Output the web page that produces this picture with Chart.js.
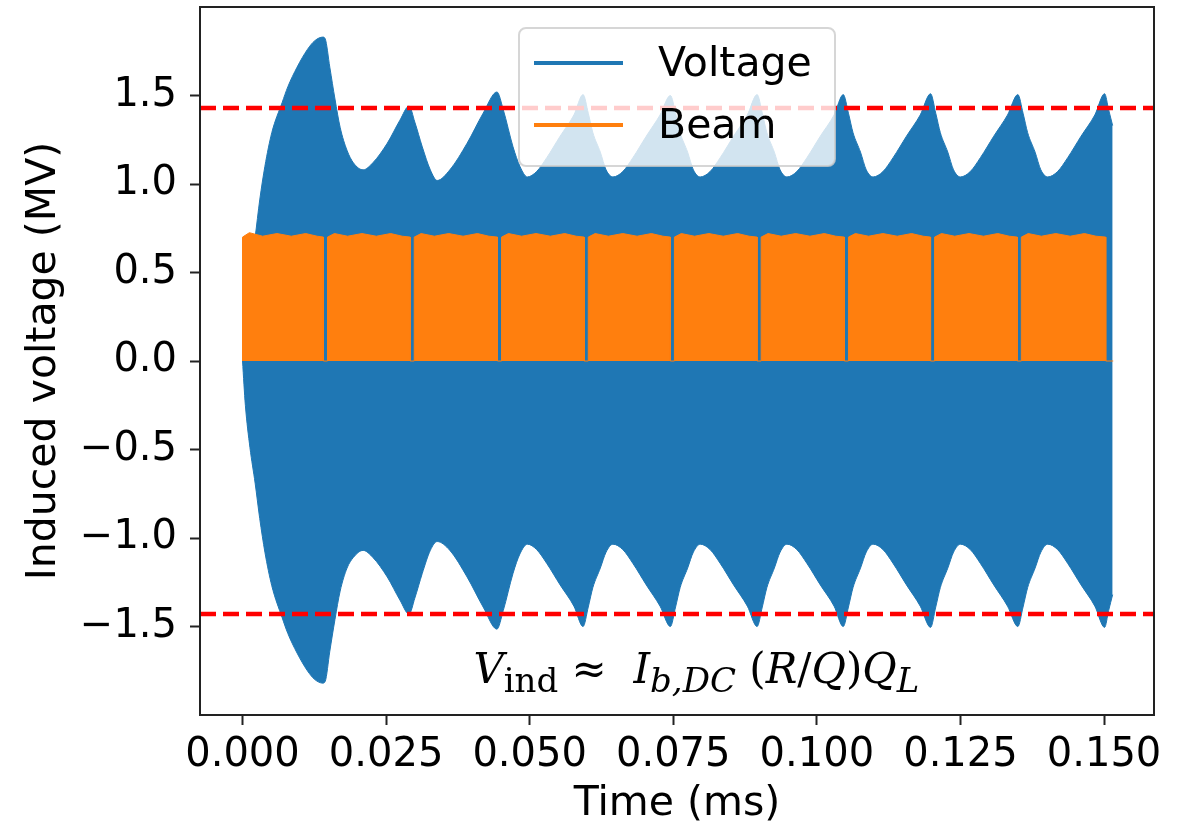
<!DOCTYPE html>
<html>
<head>
<meta charset="utf-8">
<title>Induced voltage</title>
<script src="https://cdn.jsdelivr.net/npm/chart.js@4.4.1/dist/chart.umd.min.js"></script>
<style>
  body { margin: 0; background: #fff; }
  canvas { display: block; }
</style>
</head>
<body>
<canvas id="myChart" width="1191" height="823"></canvas>
<script>
// time axis of the voltage envelope (ms)
const voltTime = [
    0, 0.0005, 0.0013, 0.0022, 0.0030, 0.0039, 0.0051, 0.0069, 0.0079, 0.0095, 0.0113, 0.0126, 0.0140,
    0.0144, 0.0152, 0.0161, 0.0170, 0.0182, 0.0193, 0.0210,
    0.0227, 0.0252, 0.0274, 0.0290,
    0.0300, 0.0313, 0.0327, 0.0339,
    0.0361, 0.0391, 0.0419, 0.0443,
    0.0454, 0.0471, 0.0483, 0.0496,
    0.0512, 0.0530, 0.0553, 0.0577, 0.0593,
    0.0602, 0.0610, 0.0623, 0.0633, 0.0645, 0.0662, 0.0680, 0.0703, 0.0727, 0.0745,
    0.0754, 0.0762, 0.0775, 0.0785, 0.0797, 0.0814, 0.0832, 0.0855, 0.0879, 0.0896,
    0.0905, 0.0913, 0.0926, 0.0936, 0.0948, 0.0965, 0.0983, 0.1006, 0.1030, 0.1046,
    0.1055, 0.1063, 0.1076, 0.1086, 0.1098, 0.1115, 0.1133, 0.1156, 0.1180, 0.1198,
    0.1207, 0.1215, 0.1228, 0.1238, 0.1250, 0.1267, 0.1285, 0.1308, 0.1332, 0.1350,
    0.1359, 0.1367, 0.1380, 0.1390, 0.1402, 0.1419, 0.1437, 0.1460, 0.1484, 0.1501,
    0.1508, 0.1515
];
// upper envelope of the voltage (MV)
const voltHigh = [
    0, 0.26, 0.50, 0.70, 0.91, 1.10, 1.29, 1.46, 1.55, 1.66, 1.76, 1.81, 1.83,
    1.82, 1.66, 1.48, 1.32, 1.19, 1.12, 1.08,
    1.12, 1.23, 1.36, 1.44,
    1.35, 1.21, 1.08, 1.02,
    1.08, 1.23, 1.40, 1.52,
    1.42, 1.21, 1.10, 1.04,
    1.07, 1.15, 1.27, 1.39, 1.505,
    1.40, 1.29, 1.18, 1.08, 1.04, 1.07, 1.15, 1.27, 1.39, 1.50,
    1.40, 1.29, 1.18, 1.08, 1.04, 1.07, 1.15, 1.27, 1.39, 1.505,
    1.40, 1.29, 1.18, 1.08, 1.04, 1.07, 1.15, 1.27, 1.39, 1.505,
    1.40, 1.29, 1.18, 1.08, 1.04, 1.07, 1.15, 1.27, 1.39, 1.51,
    1.40, 1.29, 1.18, 1.08, 1.04, 1.07, 1.15, 1.27, 1.39, 1.505,
    1.40, 1.29, 1.18, 1.08, 1.04, 1.07, 1.15, 1.27, 1.39, 1.51,
    1.42, 1.33
];
// lower envelope of the voltage (MV)
const voltLow = [
    0, -0.25, -0.49, -0.69, -0.89, -1.08, -1.27, -1.45, -1.54, -1.65, -1.75, -1.80, -1.82,
    -1.81, -1.64, -1.46, -1.30, -1.17, -1.11, -1.07,
    -1.11, -1.22, -1.35, -1.43,
    -1.34, -1.20, -1.07, -1.02,
    -1.07, -1.22, -1.39, -1.515,
    -1.41, -1.20, -1.09, -1.035,
    -1.065, -1.145, -1.265, -1.385, -1.50,
    -1.39, -1.28, -1.17, -1.08, -1.035, -1.065, -1.145, -1.265, -1.385, -1.50,
    -1.39, -1.28, -1.17, -1.08, -1.035, -1.065, -1.145, -1.265, -1.385, -1.50,
    -1.39, -1.28, -1.17, -1.08, -1.035, -1.065, -1.145, -1.265, -1.385, -1.50,
    -1.39, -1.28, -1.17, -1.08, -1.035, -1.065, -1.145, -1.265, -1.385, -1.505,
    -1.39, -1.28, -1.17, -1.08, -1.035, -1.065, -1.145, -1.265, -1.385, -1.50,
    -1.39, -1.28, -1.17, -1.08, -1.035, -1.065, -1.145, -1.265, -1.385, -1.505,
    -1.41, -1.32
];

// beam signal: bunch trains with short gaps
const beamTime = [
    0, 0, 0.0012, 0.0035, 0.0060, 0.0085, 0.0110, 0.0130, 0.0141, 0.0141,
    0.0148, 0.0148, 0.0160, 0.0183, 0.0208, 0.0233, 0.0258, 0.0278, 0.0292, 0.0292,
    0.0299, 0.0299, 0.0311, 0.0334, 0.0359, 0.0384, 0.0409, 0.0429, 0.0444, 0.0444,
    0.0451, 0.0451, 0.0463, 0.0486, 0.0511, 0.0536, 0.0561, 0.0581, 0.0595, 0.0595,
    0.0602, 0.0602, 0.0614, 0.0637, 0.0662, 0.0687, 0.0712, 0.0732, 0.0745, 0.0745,
    0.0752, 0.0752, 0.0764, 0.0787, 0.0812, 0.0837, 0.0862, 0.0882, 0.0896, 0.0896,
    0.0903, 0.0903, 0.0915, 0.0938, 0.0963, 0.0988, 0.1013, 0.1033, 0.1048, 0.1048,
    0.1055, 0.1055, 0.1067, 0.1090, 0.1115, 0.1140, 0.1165, 0.1185, 0.1198, 0.1198,
    0.1205, 0.1205, 0.1217, 0.1240, 0.1265, 0.1290, 0.1315, 0.1335, 0.1349, 0.1349,
    0.1356, 0.1356, 0.1368, 0.1391, 0.1416, 0.1441, 0.1466, 0.1486, 0.1503, 0.1503,
    0.1516
];
const beamValue = [
    0, 0.70, 0.725, 0.705, 0.72, 0.705, 0.72, 0.705, 0.70, 0,
    0, 0.70, 0.72, 0.705, 0.72, 0.705, 0.72, 0.705, 0.70, 0,
    0, 0.70, 0.72, 0.705, 0.72, 0.705, 0.72, 0.705, 0.70, 0,
    0, 0.70, 0.72, 0.705, 0.72, 0.705, 0.72, 0.705, 0.70, 0,
    0, 0.70, 0.72, 0.705, 0.72, 0.705, 0.72, 0.705, 0.70, 0,
    0, 0.70, 0.72, 0.705, 0.72, 0.705, 0.72, 0.705, 0.70, 0,
    0, 0.70, 0.72, 0.705, 0.72, 0.705, 0.72, 0.705, 0.70, 0,
    0, 0.70, 0.72, 0.705, 0.72, 0.705, 0.72, 0.705, 0.70, 0,
    0, 0.70, 0.72, 0.705, 0.72, 0.705, 0.72, 0.705, 0.70, 0,
    0, 0.70, 0.72, 0.705, 0.72, 0.705, 0.72, 0.705, 0.70, 0,
    0
];

const limitLevel = 1.43;
const xRange = [-0.0074, 0.1587];
const yRange = [-2, 2];
const xTicks = [0, 0.025, 0.05, 0.075, 0.1, 0.125, 0.15];
const yTicks = [-1.5, -1, -0.5, 0, 0.5, 1, 1.5];
const legendItems = [
    { label: "Voltage", color: "#1f77b4" },
    { label: "Beam", color: "#ff7f0e" }
];

const toPoints = (xs, ys) => xs.map((x, i) => ({ x: x, y: ys[i] }));

// legend box, frame and formula drawn on the canvas
const extras = {
    id: "extras",
    afterDatasetsDraw(chart) {
        const { ctx, chartArea } = chart;
        const xs = chart.scales.x, ys = chart.scales.y;

        // formula V_ind ~ I_b,DC (R/Q) Q_L
        const serif = "'DejaVu Serif'";
        const big = 42, small = 34;
        const parts = [
            { t: "V", f: "italic " + big + "px " + serif, dy: 0 },
            { t: "ind", f: small + "px " + serif, dy: 9 },
            { t: " \u2248  ", f: big + "px " + serif, dy: 0 },
            { t: "I", f: "italic " + big + "px " + serif, dy: 0 },
            { t: "b,DC", f: "italic " + small + "px " + serif, dy: 9 },
            { t: " (", f: big + "px " + serif, dy: 0 },
            { t: "R", f: "italic " + big + "px " + serif, dy: 0 },
            { t: "/", f: big + "px " + serif, dy: 0 },
            { t: "Q", f: "italic " + big + "px " + serif, dy: 0 },
            { t: ")", f: big + "px " + serif, dy: 0 },
            { t: "Q", f: "italic " + big + "px " + serif, dy: 0 },
            { t: "L", f: "italic " + small + "px " + serif, dy: 9 }
        ];
        let fx = xs.getPixelForValue(0.0402);
        const fy = ys.getPixelForValue(-1.822);
        ctx.save();
        ctx.fillStyle = "#000";
        ctx.textBaseline = "alphabetic";
        ctx.textAlign = "left";
        parts.forEach(p => {
            ctx.font = p.f;
            ctx.fillText(p.t, fx, fy + p.dy);
            fx += ctx.measureText(p.t).width;
        });
        ctx.restore();

        // legend
        const cx = (chartArea.left + chartArea.right) / 2;
        const bw = 316, bh = 138;
        const bx = cx - bw / 2, by = chartArea.top + 21;
        ctx.save();
        ctx.beginPath();
        ctx.roundRect(bx, by, bw, bh, 7);
        ctx.fillStyle = "rgba(255,255,255,0.8)";
        ctx.fill();
        ctx.strokeStyle = "rgba(204,204,204,0.8)";
        ctx.lineWidth = 2;
        ctx.stroke();
        ctx.font = "41px 'DejaVu Sans'";
        ctx.textBaseline = "middle";
        legendItems.forEach((item, i) => {
            const ly = by + 35 + i * 62;
            ctx.beginPath();
            ctx.moveTo(bx + 15, ly);
            ctx.lineTo(bx + 104, ly);
            ctx.strokeStyle = item.color;
            ctx.lineWidth = 4;
            ctx.stroke();
            ctx.fillStyle = "#000";
            ctx.fillText(item.label, bx + 139, ly + 2);
        });
        ctx.restore();

        // axes frame
        ctx.save();
        ctx.strokeStyle = "#222";
        ctx.lineWidth = 2;
        ctx.strokeRect(chartArea.left, chartArea.top, chartArea.right - chartArea.left, chartArea.bottom - chartArea.top);
        ctx.restore();
    }
};

const ctx = document.getElementById("myChart");

new Chart(ctx, {
    type: "line",
    data: {
        datasets: [
            {
                label: "Voltage",
                data: toPoints(voltTime, voltHigh),
                borderColor: "#1f77b4",
                backgroundColor: "#1f77b4",
                borderWidth: 1,
                fill: "+1",
                order: 3
            },
            {
                label: "Voltage (lower)",
                data: toPoints(voltTime, voltLow),
                borderColor: "#1f77b4",
                borderWidth: 1,
                fill: false,
                order: 3
            },
            {
                label: "Beam",
                data: toPoints(beamTime, beamValue),
                borderColor: "#ff7f0e",
                backgroundColor: "#ff7f0e",
                borderWidth: 1,
                cubicInterpolationMode: "default",
                tension: 0,
                fill: "origin",
                order: 2
            },
            {
                label: "limit+",
                data: toPoints(xRange, [limitLevel, limitLevel]),
                borderColor: "red",
                borderWidth: 4.5,
                borderDash: [16, 7],
                fill: false,
                order: 1
            },
            {
                label: "limit-",
                data: toPoints(xRange, [-limitLevel, -limitLevel]),
                borderColor: "red",
                borderWidth: 4.5,
                borderDash: [16, 7],
                fill: false,
                order: 1
            }
        ]
    },
    options: {
        responsive: false,
        animation: false,
        events: [],
        elements: {
            point: { radius: 0 },
            line: { cubicInterpolationMode: "monotone" }
        },
        layout: {
            padding: { left: 0, top: 7, right: 37, bottom: 0 }
        },
        plugins: {
            legend: { display: false },
            tooltip: { enabled: false }
        },
        scales: {
            x: {
                type: "linear",
                min: xRange[0],
                max: xRange[1],
                afterFit: (scale) => {
                    scale.height = 108;
                    scale.paddingLeft = 0;
                    scale.paddingRight = 0;
                },
                afterBuildTicks: (scale) => { scale.ticks = xTicks.map(v => ({ value: v })); },
                ticks: {
                    autoSkip: false,
                    maxRotation: 0,
                    padding: 7,
                    color: "#000",
                    font: { family: "DejaVu Sans", size: 40 },
                    callback: (v) => v.toFixed(3)
                },
                grid: {
                    drawOnChartArea: false,
                    drawTicks: true,
                    tickLength: 10,
                    tickWidth: 2,
                    color: "#222",
                    tickColor: "#222"
                },
                border: { display: false },
                title: {
                    display: true,
                    text: "Time (ms)",
                    color: "#000",
                    font: { family: "DejaVu Sans", size: 41, lineHeight: 0.8 },
                    padding: { top: 0, bottom: 2 }
                }
            },
            y: {
                min: yRange[0],
                max: yRange[1],
                afterFit: (scale) => {
                    scale.width = 200;
                    scale.paddingTop = 0;
                    scale.paddingBottom = 0;
                },
                afterBuildTicks: (scale) => { scale.ticks = yTicks.map(v => ({ value: v })); },
                ticks: {
                    padding: 13,
                    color: "#000",
                    font: { family: "DejaVu Sans", size: 40 },
                    callback: (v) => (v < 0 ? "\u2212" : "") + Math.abs(v).toFixed(1)
                },
                grid: {
                    drawOnChartArea: false,
                    drawTicks: true,
                    tickLength: 10,
                    tickWidth: 2,
                    color: "#222",
                    tickColor: "#222"
                },
                border: { display: false },
                title: {
                    display: true,
                    text: "Induced voltage (MV)",
                    color: "#000",
                    font: { family: "DejaVu Sans", size: 41, lineHeight: 1.2 },
                    padding: { top: 20, bottom: 0 }
                }
            }
        }
    },
    plugins: [extras]
});
</script>
</body>
</html>
